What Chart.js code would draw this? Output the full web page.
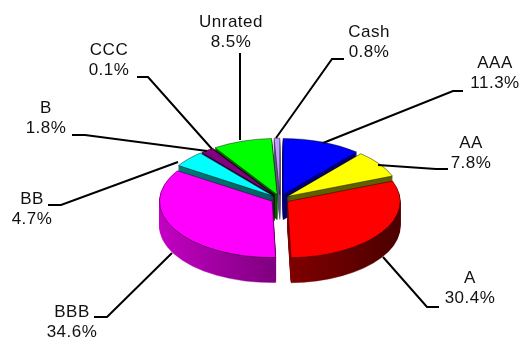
<!DOCTYPE html>
<html>
<head>
<meta charset="utf-8">
<style>
html, body { margin: 0; padding: 0; background: #fff; }
#wrap { width: 522px; height: 340px; }
</style>
<script src="https://cdn.jsdelivr.net/npm/chart.js@4"></script>
</head>
<body>
<div id="wrap"><canvas id="myChart" width="522" height="340"></canvas></div>
<script>
const categories = ['AAA', 'AA', 'A', 'BBB', 'BB', 'B', 'CCC', 'Unrated', 'Cash'];
const shares = [11.3, 7.8, 30.4, 34.6, 4.7, 1.8, 0.1, 8.5, 0.8];
const topColors = ['#0000ff', '#ffff00', '#ff0000', '#ff00ff', '#00ffff', '#800080', '#800000', '#00ff00', '#c0a0ff'];
const wallLight = ['#0000a0', '#808000', '#800000', '#c800c8', '#008080', '#400040', '#400000', '#008000', '#8070a0'];
const wallDark = ['#000070', '#606000', '#480000', '#800080', '#006060', '#300030', '#300000', '#006000', '#605080'];

// label layout: [text x, first line y, leader points from the label to the pie]
const labelPos = [
    [495, 63, [[463, 91], [453, 91], [323, 143]]],
    [471, 143, [[448, 169], [436, 169], [378, 165]]],
    [470, 278, [[439, 307], [427, 307], [383, 257]]],
    [72, 312, [[94, 317], [107, 317], [172, 253]]],
    [32, 199, [[48, 205], [61, 205], [178, 162]]],
    [46, 108, [[72, 135], [85, 135], [207, 151]]],
    [109, 50, [[137, 77], [148, 77], [212, 149]]],
    [231, 22, [[240, 53], [240, 140]]],
    [369, 32, [[344, 59], [332, 59], [276, 138]]]
];

const centerX = 280, centerY = 199, tilt = 0.5, depth = 25, explode = 9;

function sliceOffset(arc) {
    const mid = (arc.startAngle + arc.endAngle) / 2;
    return [Math.cos(mid) * explode, Math.sin(mid) * explode];
}

function drawWith(ctx, arc, fill, stroke) {
    const saved = arc.options;
    arc.options = Object.assign({}, saved, { backgroundColor: fill, borderColor: stroke });
    arc.draw(ctx);
    arc.options = saved;
}

const pie3d = {
    id: 'pie3d',
    beforeDatasetsDraw(chart) {
        const ctx = chart.ctx;
        const arcs = chart.getDatasetMeta(0).data;
        ctx.save();
        ctx.translate(centerX, centerY);
        ctx.scale(1, tilt);
        ctx.translate(-centerX, -centerY);
        // back slices first, the big front ones last
        const order = [0, 8, 7, 6, 5, 4, 1, 3, 2];
        order.forEach(function (i) {
            const off = sliceOffset(arcs[i]);
            const left = i === 2 ? centerX : centerX - 120;
            const grad = ctx.createLinearGradient(left, 0, left + 120, 0);
            grad.addColorStop(0, wallLight[i]);
            grad.addColorStop(1, wallDark[i]);
            for (let d = depth; d > 0; d--) {
                ctx.save();
                ctx.translate(off[0], off[1] + d / tilt);
                drawWith(ctx, arcs[i], grad, grad);
                ctx.restore();
            }
            ctx.save();
            ctx.translate(off[0], off[1]);
            drawWith(ctx, arcs[i], topColors[i], '#000000');
            ctx.restore();
        });
        ctx.restore();
        return false;
    },
    afterDraw(chart) {
        const ctx = chart.ctx;
        ctx.save();
        ctx.font = '17px "Liberation Sans"';
        ctx.letterSpacing = '0.5px';
        ctx.textAlign = 'center';
        ctx.textBaseline = 'middle';
        ctx.fillStyle = '#111111';
        ctx.strokeStyle = '#000000';
        ctx.lineWidth = 2;
        categories.forEach(function (name, i) {
            const pos = labelPos[i];
            ctx.fillText(name, pos[0], pos[1]);
            ctx.fillText(shares[i].toFixed(1) + '%', pos[0], pos[1] + 20.5);
            ctx.beginPath();
            pos[2].forEach(function (p, k) {
                if (k === 0) ctx.moveTo(p[0], p[1]); else ctx.lineTo(p[0], p[1]);
            });
            ctx.stroke();
        });
        ctx.restore();
    }
};

const myChart = new Chart(document.getElementById('myChart'), {
    type: 'pie',
    data: {
        labels: categories,
        datasets: [{
            data: shares,
            backgroundColor: topColors,
            borderColor: '#000000',
            borderWidth: 0.6
        }]
    },
    options: {
        responsive: false,
        animation: false,
        layout: { padding: { left: 38, right: 0, top: 86, bottom: 28 } },
        plugins: { legend: { display: false }, tooltip: { enabled: false } }
    },
    plugins: [pie3d]
});
</script>
</body>
</html>
